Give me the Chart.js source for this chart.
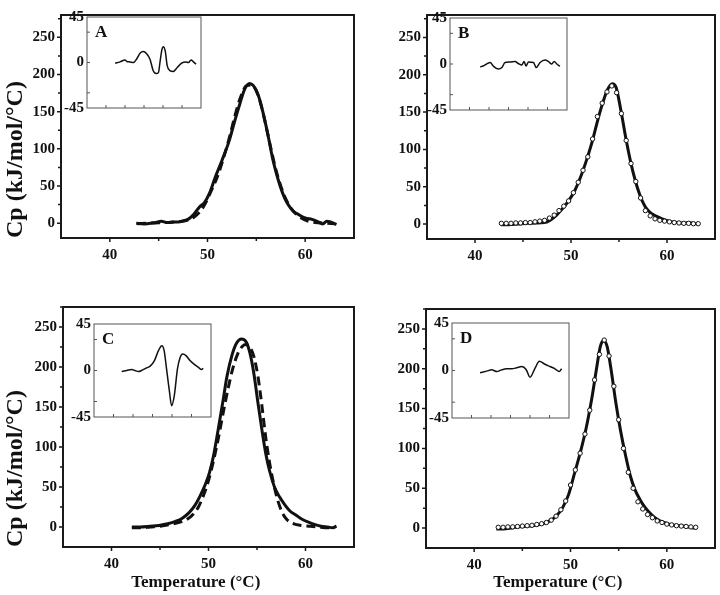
<!DOCTYPE html>
<html lang="en">
<head>
<meta charset="UTF-8">
<title>DSC curves A-D</title>
<script src="https://cdn.jsdelivr.net/npm/chart.js@4/dist/chart.umd.min.js"></script>
<style>
  body { margin: 0; background: #fff; }
  #fig { position: relative; width: 720px; height: 595px; }
  #fig canvas { position: absolute; }
</style>
</head>
<body>
<div id="fig">
  <canvas id="mainA" width="360" height="290" style="left:0;top:0"></canvas>
  <canvas id="mainB" width="360" height="290" style="left:360px;top:0"></canvas>
  <canvas id="mainC" width="360" height="305" style="left:0;top:290px"></canvas>
  <canvas id="mainD" width="360" height="305" style="left:360px;top:290px"></canvas>
  <canvas id="insetA" width="148" height="115" style="left:57px;top:5px"></canvas>
  <canvas id="insetB" width="151" height="116" style="left:420px;top:6px"></canvas>
  <canvas id="insetC" width="151" height="117" style="left:64px;top:312px"></canvas>
  <canvas id="insetD" width="151" height="119" style="left:422px;top:311px"></canvas>
</div>
<script>
// axis ticks
const xTicks = [40, 50, 60];
const xMinor = [45, 55];
const yTicks = [0, 50, 100, 150, 200, 250];
const yMinor = [25, 75, 125, 175, 225, 275];
const insetYTicks = [-45, 0, 45];
const insetYMarks = [-30, 0, 30];
const insetXMarks = [40, 45, 50, 55, 60];

// panel A: data (solid) and fit (dashed)
const aTemp = [42.7,43.5,44.5,45.3,45.8,46.5,47.2,48,48.6,49.2,49.7,50.2,50.8,51.5,52.2,52.8,53.3,53.8,54.3,54.7,55.2,55.7,56.2,56.7,57.2,57.7,58.2,58.8,59.4,60,60.7,61.3,61.8,62.2,62.6,63.2];
const aCp = [0,-1,0.5,2.5,1,1.5,2,5,12,22,28,40,62,85,110,138,160,180,188,185,172,148,118,85,60,40,26,16,11,7,5,2,-1,2.5,1.5,-2];
const aFitTemp = [42.8,44,45,46,47,48,48.6,49.2,49.8,50.4,51,51.6,52.2,52.8,53.4,54,54.5,55,55.5,56,56.5,57,57.5,58,58.5,59,59.6,60.2,61,62,63];
const aFitCp = [-1,0,0.5,1,2,4,8,15,27,44,62,86,113,144,170,185,186,178,158,130,100,72,50,33,21,13,7,3,1,0,-1];
const aResTemp = [42.4,43.7,45,45.5,46.3,47.2,48.1,49,49.8,50.7,51.6,52.4,53.2,53.8,54.2,54.7,55.1,55.6,56.1,56.8,57.7,58.8,59.9,61,61.7,62.4,63,63.7];
const aRes = [-0.7,0.6,2.5,1,0.6,0,3.7,9.4,10.9,8.7,3,-7.9,-11,-10,0,12.5,15.6,11,-3,-8,-8.8,-4.7,-0.6,0.6,0,2.5,0.6,-1.6];

// panel B: data (solid) and fit (circles)
const bTemp = [42.7,43.5,44.5,45.5,46.3,47.2,47.8,48.5,49.2,49.8,50.4,51,51.6,52.2,52.8,53.3,53.8,54.3,54.7,55.2,55.7,56.2,56.7,57.2,57.7,58.2,58.8,59.5,60.2,61,61.8,62.2,62.7,63.2];
const bCp = [-1,-1,0,1,1.5,2,5,12,22,32,45,63,85,110,140,162,180,188,183,152,116,84,58,38,24,16,11,7,4,2,1,2,1,0];
const bFitTemp = [42.75,43.25,43.75,44.25,44.75,45.25,45.75,46.25,46.75,47.25,47.75,48.25,48.75,49.25,49.75,50.25,50.75,51.25,51.75,52.25,52.75,53.25,53.75,54.25,54.75,55.25,55.75,56.25,56.75,57.25,57.75,58.25,58.75,59.25,59.75,60.25,60.75,61.25,61.75,62.25,62.75,63.25];
const bFitCp = [1,1,1,1.5,1.5,2,2,3,4,5,8,12,18,24,31,42,56,72,90,114,144,162,177,185,176,148,112,81,57,35,18,11,7,5,4,3,2,1.5,1,1,0.5,0.5];
const bResTemp = [42.7,43.5,44.4,45.3,46.1,47.4,48.3,49.1,50.4,51.7,52.5,53.4,54,54.5,55.1,56.4,57.1,58.1,59.4,60.2,61.1,61.7,62.4,63.2];
const bRes = [-2.8,-2,0,1.5,-2,-5,-3.5,1.4,2,2.5,0.5,-1,2.5,-2,2,1.5,-3.5,1.5,3.8,2.5,0,2.5,0,-2.2];

// panel C: data (solid) and fit (dashed)
const cTemp = [42.1,43,44,44.9,45.8,46.6,47.3,48,48.6,49.1,49.7,50.1,50.5,51,51.5,51.9,52.4,52.9,53.4,53.9,54.3,54.7,55.1,55.5,55.9,56.3,56.8,57.3,57.8,58.4,59,59.6,60.3,61,61.6,62.3,62.8,63.2];
const cCp = [0,0,1,2,4,7,11,18,27,38,54,68,88,122,158,188,214,230,235,231,216,190,155,122,92,70,50,38,29,20,15,10,6,3,1,0,-1,1];
const cFitTemp = [42.1,43,44,45,46,47,47.7,48.5,49,49.5,50,50.5,51,51.5,52,52.5,53,53.5,53.9,54.3,54.7,55.1,55.5,55.9,56.3,56.7,57.1,57.6,58.1,58.8,59.5,60.5,61.3,62,62.5,63];
const cFitCp = [-1,-1,0,1,3,6,9,17,26,40,58,82,110,142,172,198,216,226,228,224,212,188,152,112,80,55,35,18,9,4,2,1,0,-1,-1,0];
const cResTemp = [42.1,43.4,44.7,45.5,46.4,47.2,48.3,49.4,50.5,51.5,52.4,53,53.6,54.3,54.9,55.6,56.4,57.1,57.7,58.6,59.6,60.9,61.7,62.6,63];
const cRes = [-1,0,1,0,-1,0,2.2,4.2,9.6,19,24,19,1.6,-19,-34,-24,1.6,12.8,16,14.4,9.6,5.4,3.2,1,2.2];

// panel D: data (solid) and fit (circles)
const dTemp = [42.3,43,44,45,46,47,48,48.6,49.2,49.8,50.4,51,51.6,52.2,52.7,53.1,53.4,53.8,54.2,54.7,55.2,55.7,56.2,56.7,57.2,57.8,58.4,59,59.7,60.5,61.3,62,62.6,63.1];
const dCp = [-1,-1,0.5,2,3,5,10,16,26,42,68,94,124,162,200,228,235,228,200,158,122,92,66,48,36,25,17,11,7,4,3,2,0.5,0];
const dFitTemp = [42.5,43,43.5,44,44.5,45,45.5,46,46.5,47,47.5,48,48.5,49,49.5,50,50.5,51,51.5,52,52.5,53,53.5,54,54.5,55,55.5,56,56.5,57,57.5,58,58.5,59,59.5,60,60.5,61,61.5,62,62.5,63];
const dFitCp = [1,1,1.5,1.5,2,2.5,3,3.5,4.5,5.5,7,10,15,23,34,54,73,94,118,148,186,218,236,216,178,136,100,70,50,33,24,17,13,9,7,5,4,3,2.5,2,1.5,1];
const dResTemp = [42.2,43.9,45.2,46.5,47.7,49,50.3,51.6,52.9,54,55,56.3,57.4,58.6,60.1,61.4,62.5,63.1];
const dRes = [-2.2,-0.6,0.6,-1,0.6,1.6,1.6,2.6,3.8,1,-6.4,2.2,8.7,6.4,3.8,1.6,-1,1.6];

Chart.defaults.font.family = '"Liberation Serif", "Times New Roman", serif';
Chart.defaults.font.weight = 'bold';
Chart.defaults.color = '#111';

const pts = (xs, ys) => xs.map((x, i) => ({ x: x, y: ys[i] }));

// box round the plot area, tick marks and panel letter
const frameAndTicks = {
  id: 'frameAndTicks',
  afterDraw(chart, args, o) {
    const { ctx, chartArea: a } = chart;
    const sx = chart.scales.x, sy = chart.scales.y;
    const dir = o.inward ? -1 : 1;
    ctx.save();
    ctx.strokeStyle = o.color;
    ctx.lineWidth = o.frameWidth;
    ctx.strokeRect(a.left, a.top, a.right - a.left, a.bottom - a.top);
    ctx.lineWidth = o.tickWidth;
    ctx.beginPath();
    const xm = (vals, len) => vals.forEach(v => {
      const p = sx.getPixelForValue(v);
      ctx.moveTo(p, a.bottom); ctx.lineTo(p, a.bottom + dir * len);
    });
    const ym = (vals, len) => vals.forEach(v => {
      if (v < sy.min || v > sy.max) return;
      const p = sy.getPixelForValue(v);
      ctx.moveTo(a.left, p); ctx.lineTo(a.left - dir * len, p);
    });
    xm(o.xMajor, o.len); xm(o.xMinor, o.minorLen);
    ym(o.yMajor, o.len); ym(o.yMinor, o.minorLen);
    ctx.stroke();
    if (o.letter) {
      ctx.fillStyle = '#111';
      ctx.font = 'bold 17px "Liberation Serif"';
      ctx.fillText(o.letter, a.left + 8, a.top + 20);
    }
    ctx.restore();
  }
};

function mainChart(id, datasets, box) {
  return new Chart(document.getElementById(id), {
    type: 'line',
    data: { datasets: datasets },
    plugins: [frameAndTicks],
    options: {
      responsive: false,
      animation: false,
      layout: { padding: { top: box.top, right: box.right, left: 0, bottom: 0 } },
      plugins: {
        legend: { display: false },
        tooltip: { enabled: false },
        frameAndTicks: {
          color: '#1a1a1a', frameWidth: 2, tickWidth: 1.5, len: 4, minorLen: 3,
          xMajor: xTicks, xMinor: xMinor, yMajor: yTicks, yMinor: yMinor
        }
      },
      scales: {
        x: {
          type: 'linear', min: 35, max: 65,
          afterBuildTicks: s => { s.ticks = xTicks.map(v => ({ value: v })); },
          afterFit: s => { s.height = box.xHeight; },
          grid: { display: false, drawTicks: false },
          border: { display: false },
          ticks: { padding: 8, font: { size: 15 }, maxRotation: 0 },
          title: {
            display: !!box.xTitle, text: box.xTitle,
            font: { size: 17 }, padding: { top: 0, bottom: 2 }
          }
        },
        y: {
          min: box.yMin, max: box.yMax,
          afterBuildTicks: s => { s.ticks = yTicks.map(v => ({ value: v })); },
          afterFit: s => { s.width = box.yWidth; },
          grid: { display: false, drawTicks: false },
          border: { display: false },
          ticks: { padding: 6, font: { size: 15 } },
          title: {
            display: !!box.yTitle, text: box.yTitle, align: 'start',
            font: { size: 24 }, padding: { top: 1, bottom: 0 }
          }
        }
      }
    }
  });
}

function insetChart(id, xs, ys, letter) {
  return new Chart(document.getElementById(id), {
    type: 'line',
    data: {
      datasets: [{
        data: pts(xs, ys), borderColor: '#111', borderWidth: 1.5,
        pointRadius: 0, cubicInterpolationMode: 'monotone'
      }]
    },
    plugins: [frameAndTicks],
    options: {
      responsive: false,
      animation: false,
      layout: { padding: { top: 10, right: 4, left: 0, bottom: 12 } },
      plugins: {
        legend: { display: false },
        tooltip: { enabled: false },
        frameAndTicks: {
          color: '#555', frameWidth: 1, tickWidth: 1, len: 3, minorLen: 3, inward: true,
          xMajor: insetXMarks, xMinor: [], yMajor: insetYMarks, yMinor: [], letter: letter
        }
      },
      scales: {
        x: {
          type: 'linear', min: 35, max: 65,
          afterFit: s => { s.height = 0; },
          grid: { display: false, drawTicks: false }, border: { display: false },
          ticks: { display: false }
        },
        y: {
          min: -45, max: 45,
          afterBuildTicks: s => { s.ticks = insetYTicks.map(v => ({ value: v })); },
          afterFit: s => { s.width = 30; },
          grid: { display: false, drawTicks: false }, border: { display: false },
          ticks: { padding: 3, font: { size: 15 } }
        }
      }
    }
  });
}

const solid = (xs, ys) => ({
  data: pts(xs, ys), borderColor: '#111', borderWidth: 3,
  pointRadius: 0, cubicInterpolationMode: 'monotone'
});
const dashed = (xs, ys) => ({
  data: pts(xs, ys), borderColor: '#111', borderWidth: 3, borderDash: [9, 5],
  pointRadius: 0, cubicInterpolationMode: 'monotone'
});
const circles = (xs, ys) => ({
  data: pts(xs, ys), showLine: false, pointRadius: 2.2, pointBorderWidth: 1,
  pointBackgroundColor: '#fff', pointBorderColor: '#111'
});

const cpTitle = 'Cp (kJ/mol/°C)';
const tTitle = 'Temperature (°C)      ';

mainChart('mainA', [solid(aTemp, aCp), dashed(aFitTemp, aFitCp)],
  { top: 3, right: 6, yWidth: 61, xHeight: 52, yMin: -20, yMax: 280, yTitle: cpTitle });
mainChart('mainB', [circles(bFitTemp, bFitCp), solid(bTemp, bCp)],
  { top: 3, right: 2, yWidth: 67, xHeight: 51, yMin: -20, yMax: 280 });
mainChart('mainC', [solid(cTemp, cCp), dashed(cFitTemp, cFitCp)],
  { top: 17, right: 6, yWidth: 63, xHeight: 48, yMin: -25, yMax: 275, yTitle: cpTitle, xTitle: tTitle });
mainChart('mainD', [circles(dFitTemp, dFitCp), solid(dTemp, dCp)],
  { top: 19, right: 2, yWidth: 66, xHeight: 47, yMin: -25, yMax: 275, xTitle: tTitle });

insetChart('insetA', aResTemp, aRes, 'A');
insetChart('insetB', bResTemp, bRes, 'B');
insetChart('insetC', cResTemp, cRes, 'C');
insetChart('insetD', dResTemp, dRes, 'D');
</script>
</body>
</html>
